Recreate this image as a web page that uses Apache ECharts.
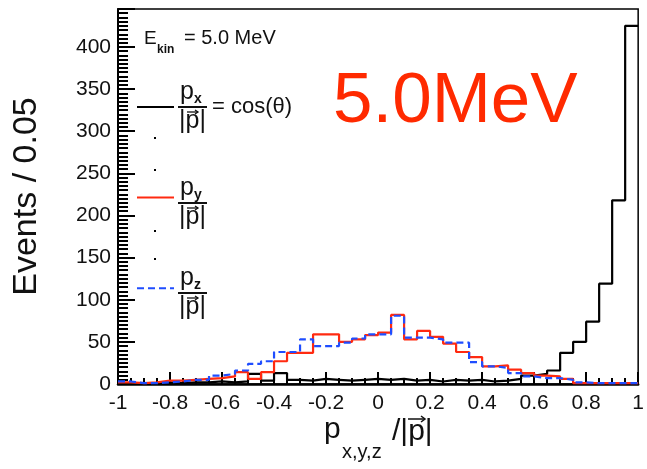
<!DOCTYPE html>
<html>
<head>
<meta charset="utf-8">
<script src="https://cdn.jsdelivr.net/npm/echarts@6/dist/echarts.min.js"></script>
<style>
    html, body { margin: 0; padding: 0; background: #fff; }
    #chart { width: 647px; height: 469px; }
</style>
</head>
<body>
<div id="chart"></div>
<script>
// histogram binning: 40 bins of 0.05 over [-1, 1]
const binStart = -1;
const binWidth = 0.05;

// events per bin (left to right)
const pxCounts = [1, 1, 1, 2, 1, 2, 2, 3, 2, 3,
                  12, 4, 13, 5, 4, 6, 5, 4, 5, 6,
                  5, 6, 4, 5, 3, 5, 4, 5, 3, 4,
                  6, 10, 12, 16, 37, 50, 74, 119, 218, 425];
const pyCounts = [2, 1, 2, 4, 4, 5, 6, 7, 9, 14,
                  6, 14, 27, 37, 37, 59, 59, 50, 53, 58,
                  61, 82, 53, 63, 56, 48, 38, 32, 21, 22,
                  17, 13, 10, 9, 6, 1, 1, 1, 1, 1];
const pzCounts = [3, 1, 1, 2, 3, 5, 5, 10, 12, 16,
                  24, 27, 38, 38, 53, 45, 45, 49, 54, 59,
                  59, 81, 55, 55, 53, 49, 49, 26, 21, 19,
                  13, 9, 7, 7, 5, 2, 1, 1, 1, 1];

const xTickValues = [-1, -0.8, -0.6, -0.4, -0.2, 0, 0.2, 0.4, 0.6, 0.8, 1];
const yTickValues = [0, 50, 100, 150, 200, 250, 300, 350, 400];

const seriesNames = ['px', 'py', 'pz'];
const seriesColors = ['#000000', '#ff2a10', '#1f4dff'];

// step outline: one point per bin low edge, plus closing point at the top edge
function toSteps(counts) {
    const pts = counts.map((c, i) => [binStart + i * binWidth, c]);
    pts.push([binStart + counts.length * binWidth, counts[counts.length - 1]]);
    return pts;
}

const chart = echarts.init(document.getElementById('chart'));
const FONT = '"Liberation Sans", Arial, sans-serif';

// pieces of the hand-made ROOT-style legend (fractions p_i / |p|)
function fraction(x, yBar, sub) {
    return [
        { type: 'text', x: x + 1, y: yBar - 2, style: { text: 'p', font: '25px ' + FONT, fill: '#111', textVerticalAlign: 'bottom' } },
        { type: 'text', x: x + 15, y: yBar - 1, style: { text: sub, font: 'bold 14px ' + FONT, fill: '#111', textVerticalAlign: 'bottom' } },
        { type: 'line', shape: { x1: x - 1, y1: yBar, x2: x + 28, y2: yBar }, style: { stroke: '#111', lineWidth: 2 } },
        { type: 'text', x: x, y: yBar + 2, style: { text: '|p|', font: '25px ' + FONT, fill: '#111', textVerticalAlign: 'top' } },
        { type: 'polyline', shape: { points: [[x + 8, yBar + 5], [x + 19, yBar + 5]] }, style: { stroke: '#111', lineWidth: 1.3 } },
        { type: 'polyline', shape: { points: [[x + 16, yBar + 3], [x + 19, yBar + 5], [x + 16, yBar + 7]] }, style: { stroke: '#111', lineWidth: 1.3, fill: null } }
    ];
}

const dots = [138, 170, 231, 259].map(y => ({
    type: 'rect', shape: { x: 154, y: y - 1, width: 2, height: 2 }, style: { fill: '#000' }
}));

const option = {
    animation: false,
    backgroundColor: '#fff',
    grid: { left: 118, right: 6, top: 9, bottom: 85, show: true, borderColor: '#000', borderWidth: 1.5, backgroundColor: 'transparent' },
    legend: {
        data: seriesNames,
        orient: 'vertical',
        left: 131,
        top: 95,
        itemWidth: 37,
        itemHeight: 14,
        itemGap: 78,
        formatter: () => '',
        selectedMode: false,
        itemStyle: { opacity: 0 }
    },
    xAxis: {
        type: 'value',
        min: -1,
        max: 1,
        interval: 0.2,
        axisLine: { show: true, onZero: false, lineStyle: { color: '#000', width: 2.5 } },
        axisTick: { show: true, inside: true, length: 12, lineStyle: { color: '#000', width: 2 } },
        minorTick: { show: true, splitNumber: 4, length: 6, lineStyle: { color: '#000', width: 2 } },
        splitLine: { show: false },
        axisLabel: {
            margin: 9,
            fontFamily: FONT,
            fontSize: 21,
            color: '#111',
            formatter: v => {
                const r = Math.round(v * 10) / 10;
                return xTickValues.includes(r) ? String(r) : '';
            }
        }
    },
    yAxis: {
        type: 'value',
        min: 0,
        max: 445,
        interval: 50,
        axisLine: { show: true, onZero: false, lineStyle: { color: '#000', width: 2 } },
        axisTick: { show: true, inside: true, length: 17, lineStyle: { color: '#000', width: 2 } },
        minorTick: { show: true, splitNumber: 10, length: 10, lineStyle: { color: '#000', width: 2 } },
        splitLine: { show: false },
        axisLabel: {
            margin: 7,
            fontFamily: FONT,
            fontSize: 21,
            color: '#111',
            formatter: v => (yTickValues.includes(v) ? String(v) : '')
        },
        name: 'Events / 0.05',
        nameLocation: 'middle',
        nameRotate: 90,
        nameGap: 74,
        nameTextStyle: { fontFamily: FONT, fontSize: 34, color: '#111' }
    },
    series: [pxCounts, pyCounts, pzCounts].map((counts, i) => ({
        name: seriesNames[i],
        type: 'line',
        step: 'end',
        symbol: 'none',
        data: toSteps(counts),
        color: seriesColors[i],
        lineStyle: { color: seriesColors[i], width: 2.2, type: i === 2 ? [7, 4] : 'solid' },
        z: 2 + i
    })),
    graphic: [
        // E_kin header
        { type: 'text', x: 144, y: 48, style: { text: 'E', font: '19px ' + FONT, fill: '#111', textVerticalAlign: 'bottom' } },
        { type: 'text', x: 157, y: 56, style: { text: 'kin', font: 'bold 12px ' + FONT, fill: '#111', textVerticalAlign: 'bottom' } },
        { type: 'text', x: 184, y: 48, style: { text: '= 5.0 MeV', font: '20px ' + FONT, fill: '#111', textVerticalAlign: 'bottom' } },
        ...fraction(179, 107, 'x'),
        { type: 'text', x: 212, y: 107, style: { text: '= cos(θ)', font: '22px ' + FONT, fill: '#111', textVerticalAlign: 'middle' } },
        ...fraction(179, 203, 'y'),
        ...fraction(179, 293, 'z'),
        ...dots,
        // big annotation
        { type: 'text', x: 333, y: 102, style: { text: '5.0MeV', font: '71px ' + FONT, fill: '#ff2a00', textVerticalAlign: 'middle' } },
        // x axis title p_{x,y,z}/|p|
        { type: 'text', x: 324, y: 445, style: { text: 'p', font: '30px ' + FONT, fill: '#111', textVerticalAlign: 'bottom' } },
        { type: 'text', x: 342, y: 462, style: { text: 'x,y,z', font: '20px ' + FONT, fill: '#111', textVerticalAlign: 'bottom' } },
        { type: 'text', x: 392, y: 447, style: { text: '/|p|', font: '30px ' + FONT, fill: '#111', textVerticalAlign: 'bottom' } },
        { type: 'polyline', shape: { points: [[408, 419], [425, 419]] }, style: { stroke: '#111', lineWidth: 1.5 } },
        { type: 'polyline', shape: { points: [[421, 416], [425, 419], [421, 422]] }, style: { stroke: '#111', lineWidth: 1.5, fill: null } }
    ]
};

chart.setOption(option);
</script>
</body>
</html>
